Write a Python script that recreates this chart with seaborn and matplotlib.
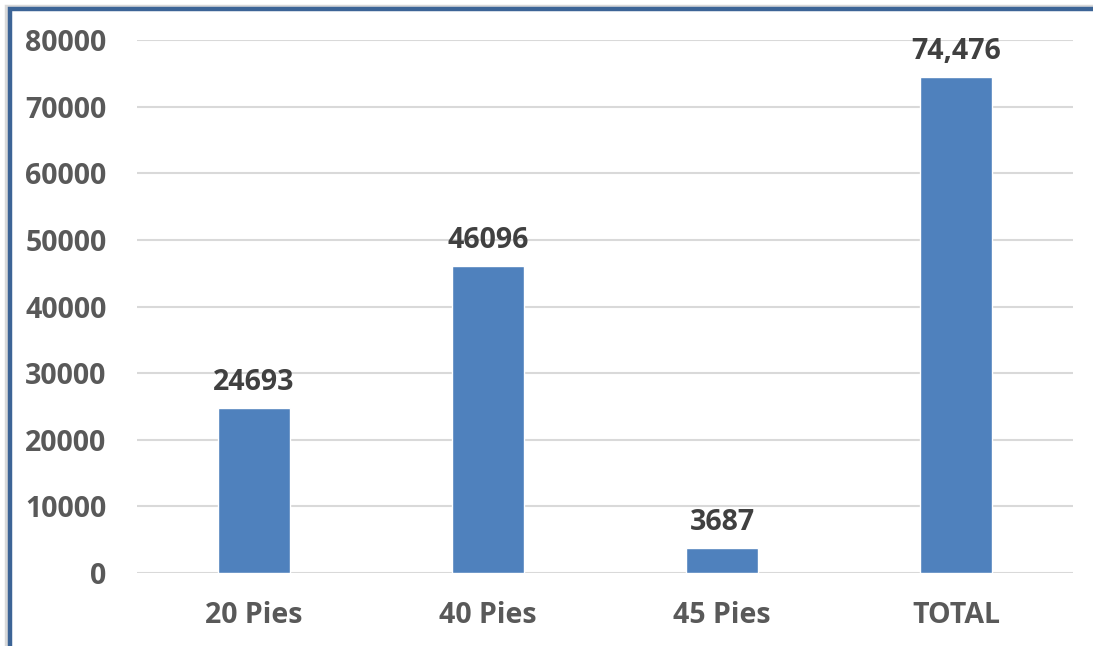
import matplotlib
matplotlib.use("Agg")
import matplotlib.pyplot as plt
import seaborn as sns
import pandas as pd
from matplotlib.patches import Rectangle

categories = ["20 Pies", "40 Pies", "45 Pies", "TOTAL"]
values = [24693, 46096, 3687, 74476]
labels = ["24693", "46096", "3687", "74,476"]
yticks = [0, 10000, 20000, 30000, 40000, 50000, 60000, 70000, 80000]

sns.set_theme(style="white")
plt.rcParams['font.family'] = ['Open Sans', 'DejaVu Sans']

W, H = 1093, 646
fig = plt.figure(figsize=(W / 100, H / 100), dpi=100)
ax = fig.add_axes([137 / W, 1 - 573 / H, (1073 - 137) / W, (573 - 40) / H])

df = pd.DataFrame({"cat": categories, "val": values})
sns.barplot(data=df, x="cat", y="val", color="#4f81bd", saturation=1,
            width=0.31, ax=ax, zorder=3)

ax.set_ylim(0, 80000)
ax.set_xlim(-0.5, 3.5)
ax.set_yticks(yticks)
ax.set_yticklabels([str(t) for t in yticks])
ax.grid(axis="y", color="#d9d9d9", linewidth=1.5, zorder=0)
ax.set_axisbelow(True)
for s in ["top", "right", "left", "bottom"]:
    ax.spines[s].set_visible(False)
ax.set_xlabel("")
ax.set_ylabel("")
ax.tick_params(axis="y", length=0, pad=22, labelsize=20.5, labelcolor="#595959")
ax.tick_params(axis="x", length=0, pad=20, labelsize=20.5, labelcolor="#595959")
for lab in ax.get_xticklabels() + ax.get_yticklabels():
    lab.set_fontweight("bold")

for i, (v, l) in enumerate(zip(values, labels)):
    ax.annotate(l, (i, v), xytext=(0, 8), textcoords="offset points",
                ha="center", va="bottom", fontsize=20.5, fontweight="bold",
                color="#404040")

# chart frame (left & top visible, cropped on right/bottom)
fig.patches.append(Rectangle((5.5 / W, -0.1), 1.2, 1.1 - 5.5 / H,
                             transform=fig.transFigure, fill=False,
                             edgecolor="#d9d9d9", linewidth=2.5))
fig.patches.append(Rectangle((9.5 / W, -0.1), 1.2, 1.1 - 9.5 / H,
                             transform=fig.transFigure, fill=False,
                             edgecolor="#3c6496", linewidth=3.2))

fig.savefig("out.png", dpi=100)
